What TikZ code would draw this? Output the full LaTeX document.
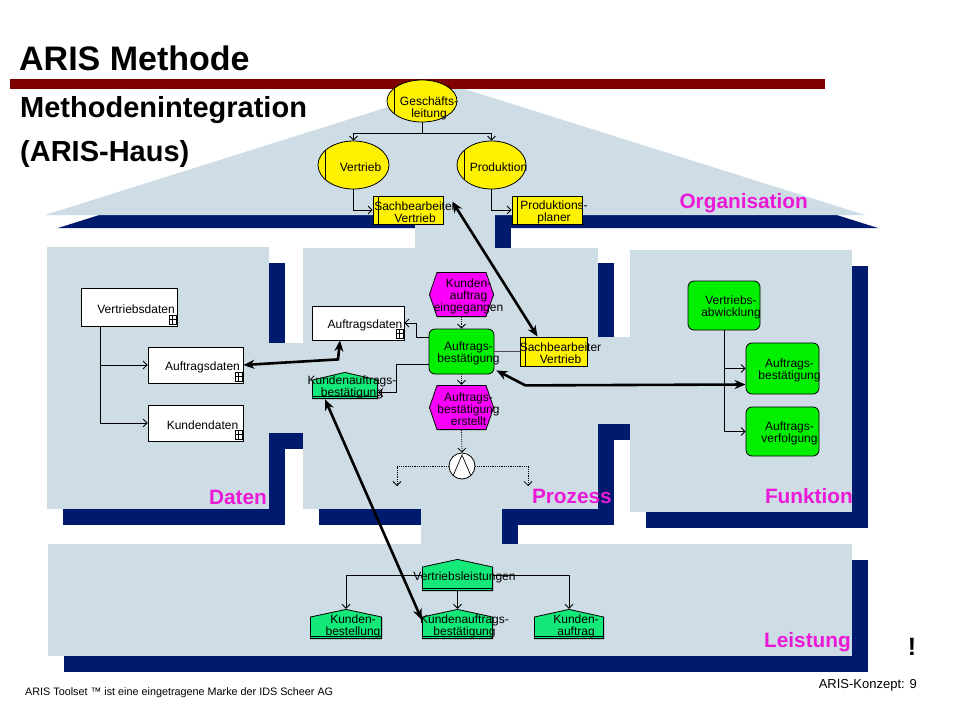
\documentclass[tikz,border=0pt]{standalone}
\usepackage{fontspec}
\setmainfont{Liberation Sans}
\usetikzlibrary{shapes.geometric}
\usetikzlibrary{arrows.meta}

\definecolor{panel}{RGB}{206,220,229}
\definecolor{navy}{RGB}{0,26,110}
\definecolor{barred}{RGB}{128,0,0}
\definecolor{lblmag}{RGB}{235,25,215}
\definecolor{evmag}{RGB}{250,0,250}
\definecolor{fngreen}{RGB}{0,240,0}
\definecolor{outgreen}{RGB}{20,232,120}

\begin{document}
\begin{tikzpicture}[x=1pt, y=-1pt,
        txt/.style={font=\fontsize{12}{12}\selectfont, align=center, inner sep=0pt, xshift=7pt, yshift=-2pt},
        sect/.style={anchor=base east, inner sep=0pt, text=lblmag, font=\fontsize{20.8}{20.8}\selectfont\bfseries},
        org/.style={ellipse, draw, fill=yellow, line width=0.8pt, inner sep=0pt,
            path picture={\draw[line width=0.8pt] ([xshift=7pt]path picture bounding box.north west) -- ([xshift=7pt]path picture bounding box.south west);}},
        posbox/.style={rectangle, draw, fill=yellow, line width=0.8pt, inner sep=0pt,
            path picture={\draw[line width=0.8pt] ([xshift=5pt]path picture bounding box.north west) -- ([xshift=5pt]path picture bounding box.south west);}},
        dat/.style={rectangle, draw, fill=white, line width=0.8pt, inner sep=0pt,
            path picture={\draw[line width=0.5pt]
                ([shift={(-8pt,2pt)}]path picture bounding box.south east) rectangle ([shift={(-1pt,11pt)}]path picture bounding box.south east)
                ([shift={(-8pt,6.5pt)}]path picture bounding box.south east) -- ([shift={(-1pt,6.5pt)}]path picture bounding box.south east)
                ([shift={(-5pt,2pt)}]path picture bounding box.south east) -- ([shift={(-5pt,11pt)}]path picture bounding box.south east);}},
        fn/.style={rectangle, draw, fill=fngreen, rounded corners=6pt, line width=0.8pt, inner sep=0pt},
        ev/.style={rectangle, inner sep=0pt,
            path picture={\path[fill=evmag, draw=black, line width=0.8pt]
                ([shift={(8pt,-0.4pt)}]path picture bounding box.north west) -- ([shift={(-8pt,-0.4pt)}]path picture bounding box.north east)
                -- ([xshift=-0.4pt]path picture bounding box.east) -- ([shift={(-8pt,0.4pt)}]path picture bounding box.south east)
                -- ([shift={(8pt,0.4pt)}]path picture bounding box.south west) -- ([xshift=0.4pt]path picture bounding box.west) -- cycle;}},
        outbox/.style={rectangle, inner sep=0pt,
            path picture={\path[fill=outgreen, draw=black, line width=0.8pt]
                ([shift={(0.4pt,0.4pt)}]path picture bounding box.south west) -- ([shift={(0.4pt,-8pt)}]path picture bounding box.north west)
                -- ([yshift=-0.4pt]path picture bounding box.north) -- ([shift={(-0.4pt,-8pt)}]path picture bounding box.north east)
                -- ([shift={(-0.4pt,0.4pt)}]path picture bounding box.south east) -- cycle;
              \draw[line width=0.8pt] ([yshift=3pt]path picture bounding box.south west) -- ([yshift=3pt]path picture bounding box.south east);}},
        andop/.style={circle, draw, fill=white, line width=0.8pt, inner sep=0pt, minimum size=26pt,
            path picture={\draw[line width=0.7pt] ([shift={(-9pt,-10pt)}]path picture bounding box.center) -- ([yshift=11pt]path picture bounding box.center) -- ([shift={(9pt,-10pt)}]path picture bounding box.center);}},
        conn/.style={line width=0.8pt, -{Straight Barb[length=4pt, width=8pt]}},
        flow/.style={conn, densely dotted},
        link/.style={line width=2.6pt, {Stealth[length=11pt, width=9pt]}-{Stealth[length=11pt, width=9pt]}}
    ]

    % Page
    \useasboundingbox (0,0) rectangle (960,720);
    \fill[white] (0,0) rectangle (960,720);

    % House shadows
    \fill[navy] (58,228) -- (468,99) -- (878,228) -- cycle;
    \fill[navy] (431,216) rectangle (511,264);
    \fill[navy] (63,263) rectangle (285,525);
    \fill[navy] (284,359) rectangle (320,449);
    \fill[navy] (319,263) rectangle (614,525);
    \fill[navy] (613,353) rectangle (647,440);
    \fill[navy] (646,266) rectangle (868,528);
    \fill[navy] (437,524) rectangle (518,561);
    \fill[navy] (64,560) rectangle (868,672);

    % House: roof, views and bridges
    \fill[panel] (45,215) -- (455,86) -- (865,215) -- cycle;
    \fill[panel] (415,205) rectangle (495,249);
    \fill[panel] (47,247) rectangle (269,509);
    \fill[panel] (268,343) rectangle (304,433);
    \fill[panel] (303,248) rectangle (598,509);
    \fill[panel] (597,337) rectangle (631,424);
    \fill[panel] (630,250) rectangle (852,512);
    \fill[panel] (421,508) rectangle (502,545);
    \fill[panel] (48,544) rectangle (852,656);

    % Title
    \node[anchor=base west, inner sep=0pt, font=\fontsize{34}{34}\selectfont\bfseries] (title) at (19,70) {ARIS Methode};
    \fill[barred] (10,79) rectangle (825,89);
    \node[anchor=base west, inner sep=0pt, font=\fontsize{29}{29}\selectfont\bfseries] (sub1) at (20,117) {Methodenintegration};
    \node[anchor=base west, inner sep=0pt, font=\fontsize{29}{29}\selectfont\bfseries] (sub2) at (20,161) {(ARIS-Haus)};

    % Organisation
    \node[org, minimum width=70pt, minimum height=42pt, label={[txt, yshift=-5pt]center:{Geschäfts-\\leitung}}] (gl) at (422,101) {};
    \node[org, minimum width=71pt, minimum height=48pt, label={[txt]center:{Vertrieb}}] (vt) at (353.5,165) {};
    \node[org, minimum width=69pt, minimum height=48pt, label={[txt]center:{Produktion}}] (pr) at (491.5,165) {};
    \node[posbox, minimum width=70pt, minimum height=28pt, label={[txt]center:{Sachbearbeiter\\Vertrieb}}] (sbr) at (408,210) {};
    \node[posbox, minimum width=70pt, minimum height=28pt, label={[txt]center:{Produktions-\\planer}}] (pp) at (547,210) {};
    \draw[conn] (gl.south) -- ++(0,11) -| (vt.north);
    \draw[conn] (gl.south) -- ++(0,11) -| (pr.north);
    \draw[conn] (vt.south) |- (sbr.west);
    \draw[conn] (pr.south) |- (pp.west);

    % Daten
    \node[dat, minimum width=96pt, minimum height=38pt, label={[txt]center:{Vertriebsdaten}}] (vd) at (129,307) {};
    \node[dat, minimum width=95pt, minimum height=36pt, label={[txt]center:{Auftragsdaten}}] (ad1) at (195.5,365) {};
    \node[dat, minimum width=95pt, minimum height=36pt, label={[txt]center:{Kundendaten}}] (kd) at (195.5,423) {};
    \draw[conn] ([xshift=20pt]vd.south west) |- (ad1.west);
    \draw[conn] ([xshift=20pt]vd.south west) |- (kd.west);

    % Prozess
    \node[ev, minimum width=65pt, minimum height=45pt, label={[txt]center:{Kunden-\\auftrag\\eingegangen}}] (e1) at (461.5,294.5) {};
    \node[fn, minimum width=65pt, minimum height=45pt, label={[txt]center:{Auftrags-\\bestätigung}}] (fp) at (461.5,351.5) {};
    \node[ev, minimum width=65pt, minimum height=45pt, label={[txt]center:{Auftrags-\\bestätigung\\erstellt}}] (e2) at (461.5,407.5) {};
    \node[andop] (aj) at (462,466) {};
    \coordinate (o1) at (397,486);
    \coordinate (o2) at (528,486);
    \node[dat, minimum width=92pt, minimum height=34pt, label={[txt]center:{Auftragsdaten}}] (ad2) at (358,323) {};
    \node[outbox, minimum width=66pt, minimum height=27pt, label={[txt]center:{Kundenauftrags-\\bestätigung}}] (kab1) at (345,385.5) {};
    \node[posbox, minimum width=67pt, minimum height=29pt, label={[txt]center:{Sachbearbeiter\\Vertrieb}}] (sbp) at (553.5,351.5) {};
    \draw[flow] (e1.south) -- (fp.north);
    \draw[flow] (fp.south) -- (e2.north);
    \draw[flow] (e2.south) -- (aj.north);
    \draw[flow] (aj.west) -| (o1);
    \draw[flow] (aj.east) -| (o2);
    \draw[conn] ([yshift=-9pt]fp.north west) -- ++(-12,0) |- (ad2.east);
    \draw[conn] ([yshift=10pt]fp.south west) -- ++(-32,0) |- ([yshift=-7pt]kab1.east);
    \draw[line width=0.8pt, black!70] (fp.east) -- (sbp.west);

    % Funktion
    \node[fn, minimum width=72pt, minimum height=49pt, label={[txt]center:{Vertriebs-\\abwicklung}}] (va) at (724,305.5) {};
    \node[fn, minimum width=73pt, minimum height=51pt, label={[txt]center:{Auftrags-\\bestätigung}}] (fa) at (782.5,368.5) {};
    \node[fn, minimum width=73pt, minimum height=49pt, label={[txt]center:{Auftrags-\\verfolgung}}] (fv) at (782.5,431.5) {};
    \draw[conn] (va.south) |- (fa.west);
    \draw[conn] (va.south) |- (fv.west);

    % Leistung
    \node[outbox, minimum width=71pt, minimum height=32pt, label={[txt]center:{Vertriebsleistungen}}] (vl) at (457.5,575) {};
    \node[outbox, minimum width=72pt, minimum height=30pt, label={[txt]center:{Kunden-\\bestellung}}] (kb) at (346,624) {};
    \node[outbox, minimum width=71pt, minimum height=30pt, label={[txt]center:{Kundenauftrags-\\bestätigung}}] (kab2) at (457.5,624) {};
    \node[outbox, minimum width=70pt, minimum height=30pt, label={[txt]center:{Kunden-\\auftrag}}] (ka) at (569,624) {};
    \draw[conn] (vl.west) -| (kb.north);
    \draw[conn] (vl.south) -- (kab2.north);
    \draw[conn] (vl.east) -| (ka.north);

    % View names
    \node[sect] (lorg) at (808,208) {Organisation};
    \node[sect] (ldat) at (267,504) {Daten};
    \node[sect] (lpro) at (612,503) {Prozess};
    \node[sect] (lfun) at (853,503) {Funktion};
    \node[sect] (llei) at (851,647) {Leistung};

    % Links between the views
    \draw[link] ([xshift=9pt,yshift=-6pt]sbr.north east) -- ([xshift=-16pt]sbp.north);
    \draw[link] (ad1.east) -- ([shift={(-20pt,-19pt)}]ad2.south) -- ([xshift=-18pt]ad2.south);
    \draw[link] ([shift={(2pt,4pt)}]fp.south east) -- ([shift={(31pt,-11pt)}]fp.south east) -- ([yshift=-16pt]fa.west);
    \draw[link] ([xshift=-20pt]kab1.south) -- ([yshift=-11pt]kab2.north west);

    % Footer
    \node[anchor=base, inner sep=0pt, font=\fontsize{25}{25}\selectfont\bfseries] (excl) at (912,655) {!};
    \node[anchor=base east, inner sep=0pt, font=\fontsize{13}{13}\selectfont] (pg) at (917,688) {ARIS-Konzept: 9};
    \node[anchor=base west, inner sep=0pt, font=\fontsize{10.8}{10.8}\selectfont] (foot) at (25,695) {ARIS Toolset ™ ist eine eingetragene Marke der IDS Scheer AG};

\end{tikzpicture}
\end{document}
